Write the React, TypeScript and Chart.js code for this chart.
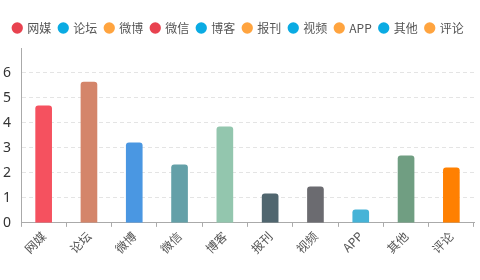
import React, { useEffect, useRef } from "react";
import { Chart, registerables } from "chart.js";

Chart.register(...registerables);

const categories = ["网媒", "论坛", "微博", "微信", "博客", "报刊", "视频", "APP", "其他", "评论"];
const values = [4.68, 5.64, 3.2, 2.32, 3.84, 1.16, 1.44, 0.52, 2.68, 2.2];
const barColors = ["#f5515f", "#d4856a", "#4a97e2", "#64a0a8", "#93c6ae", "#50666f", "#6b6b70", "#46b3d7", "#709e82", "#ff8001"];
const legendColors = ["#e8424f", "#0aabe3", "#ffa43f", "#e8424f", "#0aabe3", "#ffa43f", "#0aabe3", "#ffa43f", "#0aabe3", "#ffa43f"];
const yTicks = [0, 1, 2, 3, 4, 5, 6];

const legendSpacer = {
  id: "legendSpacer",
  afterInit(chart: any) {
    const legend = chart.legend;
    if (!legend) return;
    const orig = legend.fit;
    legend.fit = function () {
      orig.call(this);
      this.height += 4;
    };
  },
};

export default function App() {
  const ref = useRef<HTMLCanvasElement | null>(null);
  useEffect(() => {
    document.body.style.margin = "0";
    const canvas = ref.current;
    if (!canvas) return;
    const chart = new Chart(canvas, {
      type: "bar",
      data: {
        labels: categories,
        datasets: [
          {
            data: values,
            backgroundColor: barColors,
            barThickness: 16,
            borderRadius: 3,
          },
        ],
      },
      plugins: [legendSpacer],
      options: {
        responsive: false,
        animation: false,
        layout: { padding: { top: 14, left: 3, right: 6, bottom: 22 } },
        plugins: {
          tooltip: { enabled: false },
          legend: {
            display: true,
            position: "top",
            onClick: () => {},
            labels: {
              usePointStyle: true,
              boxWidth: 8,
              boxHeight: 8,
              padding: 8,
              color: "#555",
              font: { size: 12, family: "'Noto Sans CJK SC', sans-serif" },
              generateLabels: () =>
                categories.map((c, i) => ({
                  text: c,
                  fillStyle: legendColors[i],
                  strokeStyle: legendColors[i],
                  lineWidth: 0,
                  pointStyle: "circle",
                  fontColor: "#555",
                  hidden: false,
                  datasetIndex: 0,
                  index: i,
                })),
            },
          },
        },
        scales: {
          x: {
            type: "category",
            afterFit: (scale: any) => {
              scale.paddingLeft = 0;
              scale.paddingRight = 0;
            },
            grid: {
              display: true,
              drawOnChartArea: false,
              offset: true,
              tickLength: 4,
              color: "#aaa",
            },
            border: { color: "#aaa" },
            ticks: {
              maxRotation: 45,
              minRotation: 45,
              padding: 2,
              color: "#555",
              font: { size: 12, family: "'Noto Sans CJK SC', sans-serif" },
            },
          },
          y: {
            min: 0,
            max: 7,
            afterBuildTicks: (axis: any) => {
              axis.ticks = yTicks.map((v) => ({ value: v }));
            },
            afterFit: (scale: any) => {
              scale.width = 18;
            },
            grid: {
              drawTicks: false,
              color: "#e4e4e4",
            },
            border: { color: "#aaa", dash: [4, 3] },
            ticks: {
              padding: 10,
              color: "#333",
              font: { size: 14, family: "'Noto Sans', sans-serif" },
            },
          },
        },
      },
    });
    return () => chart.destroy();
  }, []);
  return (
    <div style={{ width: 480, height: 280 }}>
      <canvas ref={ref} width={480} height={280} />
    </div>
  );
}
